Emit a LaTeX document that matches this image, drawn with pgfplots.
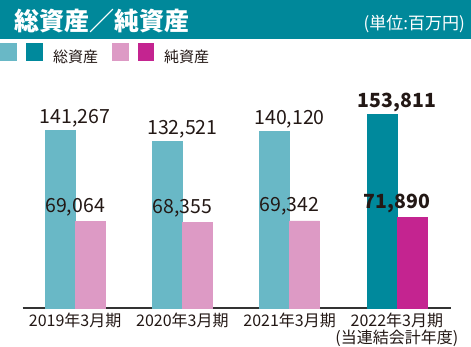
\documentclass[border=0pt]{standalone}
\usepackage{fontspec}
\setmainfont{Noto Sans CJK JP}
\usepackage{pgfplots}
\pgfplotsset{compat=1.18}
\definecolor{tbar}{HTML}{00889A}
\definecolor{lteal}{HTML}{69B8C6}
\definecolor{dteal}{HTML}{00899C}
\definecolor{lpink}{HTML}{DD9AC5}
\definecolor{mag}{HTML}{C42490}
\definecolor{txt}{HTML}{231815}
\definecolor{axgray}{HTML}{333333}
\begin{document}
\begin{tikzpicture}[x=1pt,y=1pt]
\fill[white] (0,0) rectangle (471,346);
\begin{axis}[
  at={(21,30)}, anchor=south west,
  scale only axis, width=428pt, height=201.6pt,
  xmin=-0.49, xmax=3.5, ymin=0, ymax=160000,
  axis x line*=bottom, hide y axis,
  x axis line style={color=axgray, line width=1.5pt},
  xtick={0,1,2,3},
  xticklabels={2019年3月期,2020年3月期,2021年3月期,{2022年3月期\\(当連結会計年度)}},
  major tick length=0pt,
  xticklabel style={font=\fontsize{16}{16.5}\selectfont, align=center, text=txt, inner sep=0pt, yshift=-5pt},
  clip=false,
  /pgf/number format/.cd, 1000 sep={,}, fixed, precision=0, assume math mode=true,
  /pgfplots/.cd,
  ybar, bar width=30pt,
  nodes near coords,
]
\addplot[fill=lteal, draw=lteal, bar shift=-15pt,
  every node near coord/.style={font=\fontsize{19.5}{19.5}\selectfont, text=txt, anchor=base, yshift=7pt}]
  coordinates {(0,141267) (1,132521) (2,140120)};
\addplot[fill=lpink, draw=lpink, bar shift=15pt,
  every node near coord/.style={font=\fontsize{19.5}{19.5}\selectfont, text=txt, anchor=base, yshift=9pt}]
  coordinates {(0,69064) (1,68355) (2,69342)};
\addplot[fill=dteal, draw=dteal, bar shift=-15pt,
  every node near coord/.style={font=\fontsize{19.5}{19.5}\selectfont\bfseries, text=txt, anchor=base, yshift=7pt}]
  coordinates {(3,153811)};
\addplot[fill=mag, draw=mag, bar shift=15pt,
  every node near coord/.style={font=\fontsize{19.5}{19.5}\selectfont\bfseries, text=txt, anchor=base, yshift=9pt}]
  coordinates {(3,71890)};
\end{axis}
\fill[tbar] (0,307) rectangle (471,346);
\node[anchor=west, text=white, inner sep=0pt, font=\fontsize{25}{25}\selectfont\bfseries] at (14,325) {総資産／純資産};
\node[anchor=east, text=white, inner sep=0pt, font=\fontsize{17}{17}\selectfont] at (465,322) {(単位:百万円)};
% legend
\fill[lteal] (0,285) rectangle (17,303);
\fill[dteal] (26,285) rectangle (43,303);
\node[anchor=west, inner sep=0pt, text=txt, font=\fontsize{15}{15}\selectfont] at (53,289.5) {総資産};
\fill[lpink] (112,285) rectangle (129,303);
\fill[mag] (138,285) rectangle (154,303);
\node[anchor=west, inner sep=0pt, text=txt, font=\fontsize{15}{15}\selectfont] at (164,289.5) {純資産};
\pgfresetboundingbox
\useasboundingbox (0,0) rectangle (471,346);
\end{tikzpicture}
\end{document}
